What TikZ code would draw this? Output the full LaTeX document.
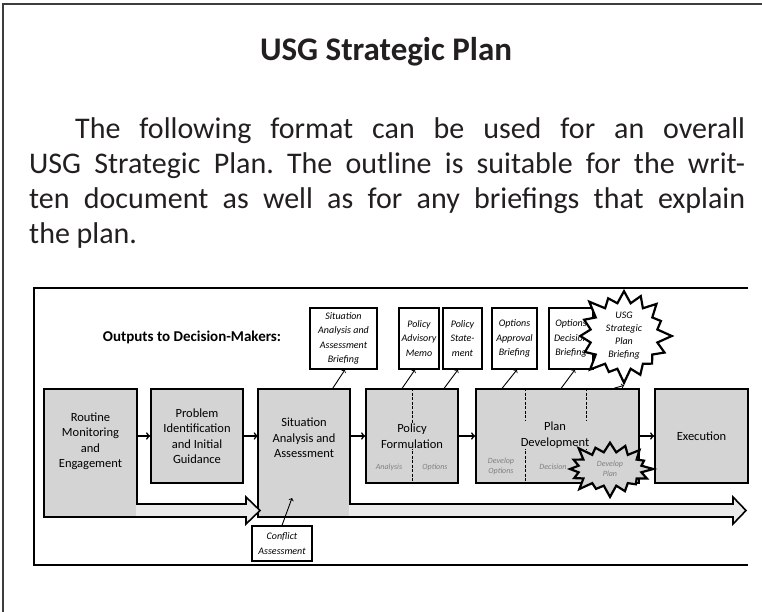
\documentclass[tikz,border=0pt]{standalone}
\usepackage{fontspec}
\setmainfont{Carlito}
\usetikzlibrary{shapes,arrows,positioning,calc}
\definecolor{boxgray}{RGB}{212,212,212}
\definecolor{shaftgray}{RGB}{234,234,234}
\definecolor{inkdark}{RGB}{35,31,32}
\definecolor{framegray}{RGB}{60,60,60}

\tikzset{
  stagebox/.style={rectangle, draw=black, line width=1.6pt, fill=boxgray, align=center, font=\fontsize{12.5}{15.5}\selectfont, inner sep=2pt},
  stagetext/.style={align=center, font=\fontsize{12.5}{15.5}\selectfont, inner sep=2pt},
  outbox/.style={rectangle, draw=black, line width=1.3pt, fill=white, align=center, font=\itshape\fontsize{10}{14.5}\selectfont, inner sep=1pt},
  subnote/.style={align=center, text=black!50, font=\itshape\fontsize{8}{10}\selectfont, inner sep=1pt},
  flow/.style={->, line width=1.6pt},
  brief/.style={->, line width=0.9pt},
  divider/.style={dash pattern=on 3pt off 1.5pt, line width=0.8pt},
  burst/.style={starburst, draw=black, line width=2.2pt, starburst points=16, inner sep=0pt}
}

\begin{document}
\begin{tikzpicture}[x=1pt, y=-1pt]
    \useasboundingbox (0,0) rectangle (762,612);

    % Page frame
    \draw[framegray, line width=2.5pt] (3,612) -- (3,4) -- (762,4);

    % Heading and text
    \node[anchor=base, text=inkdark, font=\bfseries\fontsize{33}{40}\selectfont] (title) at (386,61) {USG Strategic Plan};
    \node[anchor=north west, text width=716pt, inner sep=0pt, align=justify, text=inkdark, font=\frenchspacing\fontsize{30}{35}\selectfont] (intro) at (29,117)
        {\hspace*{46pt}The following format can be used for an overall\linebreak
         USG Strategic Plan. The outline is suitable for the writ-\linebreak
         ten document as well as for any briefings that explain\linebreak
         the plan.};

    % Diagram frame
    \draw[line width=1.5pt] (748,288) -- (34,288) -- (34,565) -- (748,565);
    \node[font=\bfseries\fontsize{15}{18}\selectfont] (outputs) at (192,337) {Outputs to Decision-Makers:};

    % Situation block with long arrow
    \filldraw[fill=shaftgray, line width=1.6pt] (258,389) -- (350,389) -- (350,504) -- (733,504) -- (733,497) -- (746,510.5) -- (733,524) -- (733,517) -- (258,517) -- cycle;
    \fill[boxgray] (258.8,389.8) rectangle (349.2,516.2);

    % Routine block with short arrow
    \filldraw[fill=shaftgray, line width=1.6pt] (44,389) -- (137,389) -- (137,504) -- (246,504) -- (246,497) -- (260,510.5) -- (246,524) -- (246,517) -- (44,517) -- cycle;
    \fill[boxgray] (44.8,389.8) rectangle (136.2,516.2);

    % Stages
    \node[stagetext, minimum width=93pt, minimum height=94pt] (routine) at (90.5,441) {Routine\\Monitoring\\and\\Engagement};
    \node[stagebox, minimum width=92pt, minimum height=94pt] (problem) at (197,436) {Problem\\Identification\\and Initial\\Guidance};
    \node[stagetext, minimum width=92pt, minimum height=94pt] (situation) at (304,438) {Situation\\Analysis and\\Assessment};
    \node[stagebox, minimum width=92pt, minimum height=94pt] (policy) at (412,436) {};
    \node[stagebox, minimum width=163pt, minimum height=94pt] (plan) at (557.5,436) {};
    \node[stagebox, minimum width=93pt, minimum height=94pt] (execution) at (701.5,436) {Execution};

    % Steps inside stages
    \draw[divider] (policy.north) -- (policy.south);
    \draw[divider] ([xshift=50pt]plan.north west) -- ([xshift=50pt]plan.south west);
    \draw[divider] ([xshift=111pt]plan.north west) -- ([xshift=111pt]plan.south west);
    \node[stagetext, fill=boxgray, inner sep=1pt] (policylabel) at (412,436) {Policy\\Formulation};
    \node[stagetext, fill=boxgray, inner sep=1pt] (planlabel) at (555,435) {Plan\\Development};
    \node[subnote] (analysis) at (389,467) {Analysis};
    \node[subnote] (options) at (435,467) {Options};
    \node[subnote] (devoptions) at (501,466) {Develop\\Options};
    \node[subnote] (decision) at (553,467) {Decision};
    \node[burst, fill=boxgray, text=black!50, font=\itshape\fontsize{8}{10}\selectfont, align=center, starburst point height=13pt, minimum width=90pt, minimum height=60pt] (devplan) at (610,469) {Develop\\Plan};

    % Flow between stages
    \draw[flow] (routine.east |- problem.west) -- (problem.west);
    \draw[flow] (problem.east) -- (situation.west |- problem.east);
    \draw[flow] (situation.east |- policy.west) -- (policy.west);
    \draw[flow] (policy.east) -- (plan.west);
    \draw[flow] (plan.east) -- (execution.west);

    % Outputs to decision-makers
    \node[outbox, minimum width=67pt, minimum height=61pt] (sitbrief) at (343.5,338.5) {Situation\\Analysis and\\Assessment\\Briefing};
    \node[outbox, minimum width=40pt, minimum height=61pt] (memo) at (419,338.5) {Policy\\Advisory\\Memo};
    \node[outbox, minimum width=39pt, minimum height=61pt] (statement) at (462.5,338.5) {Policy\\State-\\ment};
    \node[outbox, minimum width=45pt, minimum height=61pt] (approval) at (514.5,338.5) {Options\\Approval\\Briefing};
    \node[outbox, minimum width=44pt, minimum height=61pt] (decbrief) at (571,338.5) {Options\\Decision\\Briefing};
    \node[burst, fill=white, font=\itshape\fontsize{10}{13}\selectfont, align=center, starburst point height=16pt, minimum width=100pt, minimum height=90pt] (usgbrief) at (624,336) {USG\\Strategic\\Plan\\Briefing};
    \node[outbox, minimum width=60pt, minimum height=35pt] (conflict) at (282,543.5) {Conflict\\Assessment};
    \coordinate (sitentry) at (292,498);

    \draw[brief] ([xshift=75pt]situation.north west |- policy.north) -- ([xshift=1.5pt]sitbrief.south);
    \draw[brief] ([xshift=37pt]policy.north west) -- ([xshift=-4pt]memo.south);
    \draw[brief] ([xshift=79pt]policy.north west) -- ([xshift=-4.5pt]statement.south);
    \draw[brief] ([xshift=27pt]plan.north west) -- ([xshift=2.5pt]approval.south);
    \draw[brief] ([xshift=86pt]plan.north west) -- ([xshift=4pt]decbrief.south);
    \draw[brief] ([xshift=139pt]plan.north west) -- (usgbrief.south);
    \draw[brief] (conflict.north) -- (sitentry);
\end{tikzpicture}
\end{document}
